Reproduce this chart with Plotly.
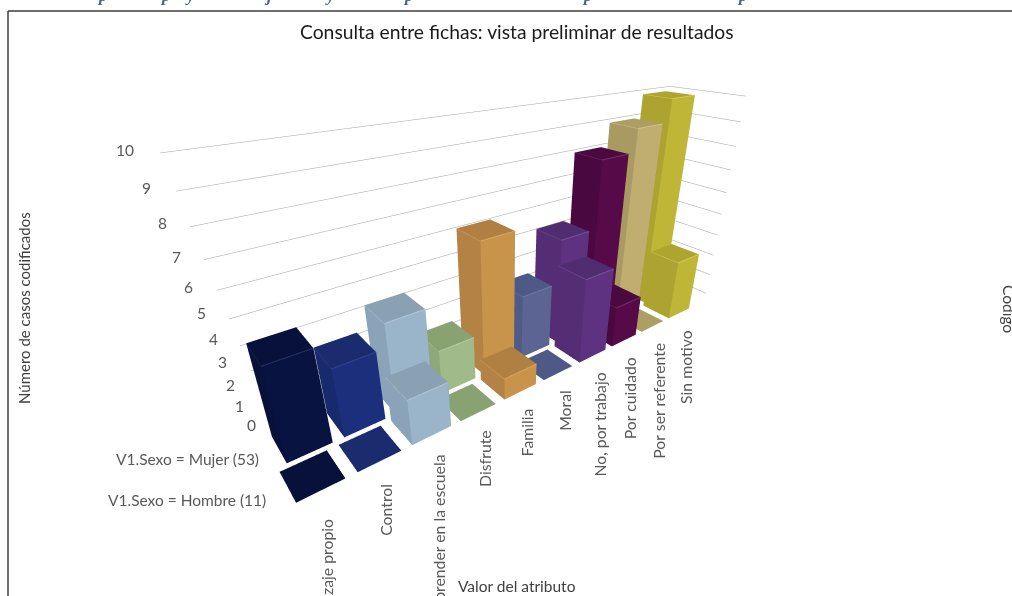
"""
3D column chart: codified cases per attribute value, split by sex.
"""

import plotly.graph_objects as go

WIDTH = 1012
HEIGHT = 596

categories = [
    "Aprendizaje propio", "Control", "Aprender en la escuela", "Disfrute",
    "Familia", "Moral", "No, por trabajo", "Por cuidado",
    "Por ser referente", "Sin motivo",
]
series_names = ["V1.Sexo = Hombre (11)", "V1.Sexo = Mujer (53)"]
hombre = [0, 0, 2, 0, 1, 0, 4, 2, 0, 3]
mujer = [4, 3, 4, 2, 6, 3, 5, 8, 9, 10]
value_ticks = list(range(11))

front_colors = ["#081342", "#1b2f7c", "#9ab4c9", "#a0ba8a", "#c8934a",
                "#5b6493", "#5e3280", "#560a48", "#bfae70", "#bfb537"]
top_colors = ["#07113a", "#1a2b6e", "#8aa0b3", "#88a272", "#b07f42",
              "#4f5987", "#502c70", "#4a0a40", "#ad9e63", "#aea52f"]
side_colors = ["#07113a", "#18296c", "#8ba3b8", "#8fa87a", "#b48245",
               "#505a88", "#552d74", "#4a0840", "#a99a62", "#aca330"]
edge_colors = ["#2b3560", "#34478c", "#b4c8d8", "#b8cca4", "#dcaa66",
               "#7079a5", "#7a529a", "#77306a", "#d0c28c", "#d2c95a"]

# only the descenders of the cropped line above the frame can be read
caption_fragments = ["p", "p", "y", "j", "y", "p", "p", "p"]
caption_x = [102, 165, 190, 268, 330, 408, 587, 742]

# label nudges in pixels
tick_dx = [-7, -9, -8, -5, -3, -3, -3, -1, 0, -1, -5]
tick_dy = [12, 12, 12, 11, 11, 9, 9, 7, 3, 0, -3]
category_dy = [11, 5, 2, 0, 0, 0, 0, 0, 0, 0]
series_dx = [-8, 2]
series_dy = [-8, 0]

BAR_X = 0.726
BAR_Y = 0.72
ROW_Y = [0.426, 1.25]
ROW_SHIFT = [0, 0.14]
X_START = 0.527
X_PITCH = 0.919
DEPTH = 2.037
WALL_FRONT = 0.2
GRID_LEAN = 0.045
LABEL_LEAN = 0.07
WALL_STRETCH = 0.095
TICK_COLOR = "#595959"
TITLE_COLOR = "#404040"
FONT = "Lato"

fig = go.Figure()


def add_bar(cx, cy, h, idx):
    x0, x1 = cx - BAR_X / 2, cx + BAR_X / 2
    y0, y1 = cy - BAR_Y / 2, cy + BAR_Y / 2
    xs = [x0, x1, x1, x0] * 2
    ys = [y0, y0, y1, y1] * 2
    zs = [0] * 4 + [h] * 4
    i = [4, 4, 0, 0, 0, 0, 1, 1, 3, 3]
    j = [5, 6, 1, 5, 3, 7, 2, 6, 2, 6]
    k = [6, 7, 5, 4, 7, 4, 6, 5, 6, 7]
    faces = [top_colors[idx]] * 2 + [front_colors[idx]] * 2 + [side_colors[idx]] * 6
    if h == 0:
        i, j, k, faces = i[:2], j[:2], k[:2], faces[:2]
    fig.add_trace(go.Mesh3d(
        x=xs, y=ys, z=zs, i=i, j=j, k=k,
        facecolor=faces, flatshading=True,
        lighting=dict(ambient=1, diffuse=0, specular=0, fresnel=0, roughness=1),
        hoverinfo="skip", showscale=False,
    ))
    if h > 0:
        # lighter rim along the front and left of the column top
        fig.add_trace(go.Scatter3d(
            x=[x0, x1], y=[y0, y0], z=[h, h],
            mode="lines", line=dict(color=edge_colors[idx], width=2),
            hoverinfo="skip", showlegend=False,
        ))
        fig.add_trace(go.Scatter3d(
            x=[x0, x0], y=[y0, y1], z=[h, h],
            mode="lines", line=dict(color=edge_colors[idx], width=1),
            hoverinfo="skip", showlegend=False,
        ))


# gridlines run along the back wall and turn down the right wall;
# the walls read slightly taller than the columns in the original
for v in value_ticks:
    zg = v - WALL_STRETCH * (10 - v)
    if zg < 0:
        continue
    fig.add_trace(go.Scatter3d(
        x=[GRID_LEAN * (10 - v), 10, 10], y=[DEPTH, DEPTH, WALL_FRONT], z=[zg, zg, zg],
        mode="lines", line=dict(color="#a3a3a3", width=1),
        hoverinfo="skip", showlegend=False,
    ))

for row, shift, values in zip(ROW_Y, ROW_SHIFT, [hombre, mujer]):
    for n, v in enumerate(values):
        add_bar(X_START + shift + X_PITCH * n, row, v, n)

scene_notes = []
for v in value_ticks:
    scene_notes.append(dict(
        x=LABEL_LEAN * (10 - v), y=DEPTH, z=v, text=str(v), showarrow=False, xanchor="center",
        xshift=-30 + tick_dx[v], yshift=tick_dy[v] * -1,
        font=dict(family=FONT, size=15.5, color=TICK_COLOR),
    ))
for n, name in enumerate(categories):
    scene_notes.append(dict(
        x=X_START + X_PITCH * n, y=0, z=0, text=name, showarrow=False, textangle=-90,
        xanchor="center", yanchor="top", xshift=4, yshift=-13 - category_dy[n],
        font=dict(family=FONT, size=15.8, color=TICK_COLOR),
    ))
for row, dx, dy, name in zip(ROW_Y, series_dx, series_dy, series_names):
    scene_notes.append(dict(
        x=0, y=row, z=0, text=name, showarrow=False, xanchor="right",
        xshift=dx, yshift=dy, font=dict(family=FONT, size=15.5, color=TICK_COLOR),
    ))

hidden_axis = dict(showgrid=False, showline=False, zeroline=False, showticklabels=False,
                   showbackground=False, showspikes=False, ticks="", title="")

page_notes = [
    dict(text="Consulta entre fichas: vista preliminar de resultados",
         x=517 / WIDTH, y=1 - 31 / HEIGHT, font=dict(family=FONT, size=19.3, color="#1a1a1a")),
    dict(text="Valor del atributo", x=517 / WIDTH, y=1 - 586 / HEIGHT,
         font=dict(family=FONT, size=15.5, color=TITLE_COLOR)),
    dict(text="Número de casos codificados", x=24 / WIDTH, y=1 - 308 / HEIGHT, textangle=-90,
         font=dict(family=FONT, size=15, color=TITLE_COLOR)),
    dict(text="Código", x=1009 / WIDTH, y=1 - 309 / HEIGHT, textangle=90,
         font=dict(family=FONT, size=15.5, color=TITLE_COLOR)),
]
for frag, fx in zip(caption_fragments, caption_x):
    page_notes.append(dict(
        text=f"<b><i>{frag}</i></b>", x=fx / WIDTH, y=1 + 4 / HEIGHT,
        font=dict(family="Liberation Serif", size=17, color="#4a6285"),
    ))
for note in page_notes:
    note.update(xref="paper", yref="paper", showarrow=False, xanchor="center", yanchor="middle")

fig.update_layout(
    width=WIDTH,
    height=HEIGHT,
    margin=dict(l=0, r=0, t=0, b=0),
    paper_bgcolor="white",
    showlegend=False,
    scene=dict(
        domain=dict(x=[0, 1], y=[0.1208, 0.8725]),
        xaxis=dict(hidden_axis, range=[0, 10]),
        yaxis=dict(hidden_axis, range=[0, DEPTH]),
        zaxis=dict(hidden_axis, range=[0, 10]),
        aspectmode="manual",
        aspectratio=dict(x=1, y=0.2037, z=0.4506),
        camera=dict(
            eye=dict(x=-0.5727, y=-0.6917, z=0.3875),
            center=dict(x=-0.0519, y=-0.0165, z=-0.0806),
            up=dict(x=0, y=0, z=1),
        ),
        annotations=scene_notes,
    ),
    annotations=page_notes,
    shapes=[
        dict(type="line", xref="paper", yref="paper", x0=8 / WIDTH, x1=8 / WIDTH,
             y0=0, y1=1 - 11 / HEIGHT, line=dict(color="#3c3c3c", width=1.5)),
        dict(type="line", xref="paper", yref="paper", x0=8 / WIDTH, x1=1,
             y0=1 - 11 / HEIGHT, y1=1 - 11 / HEIGHT, line=dict(color="#3c3c3c", width=1.5)),
    ],
)

fig.write_html("out.html", config={"displayModeBar": False},
               post_script="document.body.style.margin='0';document.body.style.overflow='hidden';")
